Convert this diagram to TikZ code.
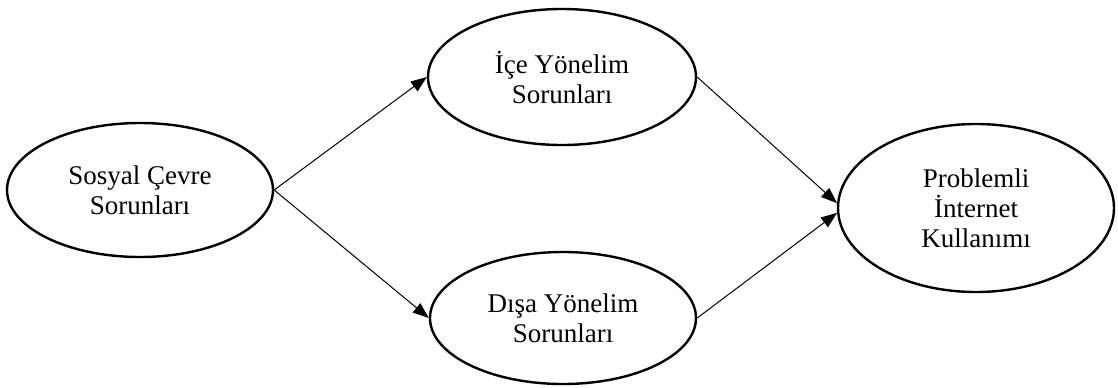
\documentclass[tikz,border=0pt]{standalone}
\usepackage{fontspec}
\setmainfont{Liberation Serif}
\usetikzlibrary{shapes.geometric,arrows.meta}
\tikzset{
    kutu/.style={ellipse,draw,line width=1.2pt,inner sep=0pt,align=center,
        font=\fontsize{13.5}{15}\selectfont},
    ok/.style={-{Triangle[length=8pt,width=6pt]},line width=0.5pt}
}
\begin{document}
\begin{tikzpicture}[x=0.5pt,y=-0.5pt]
    \useasboundingbox (0,0) rectangle (1118,387);
    % kutular
    \node[kutu,minimum width=133pt,minimum height=67pt] (sosyal) at (140,190) {Sosyal Çevre\\Sorunları};
    \node[kutu,minimum width=134pt,minimum height=68pt] (ice) at (562,77) {İçe Yönelim\\Sorunları};
    \node[kutu,minimum width=133pt,minimum height=66pt] (disa) at (563,318) {Dışa Yönelim\\Sorunları};
    \node[kutu,minimum width=138pt,minimum height=84pt] (pik) at (976,208) {Problemli\\İnternet\\Kullanımı};
    % oklar
    \draw[ok] (sosyal.east) -- (ice.west);
    \draw[ok] (sosyal.east) -- (disa.west);
    \draw[ok] (ice.east) -- (pik.178);
    \draw[ok] (disa.east) -- (pik.182);
\end{tikzpicture}
\end{document}
